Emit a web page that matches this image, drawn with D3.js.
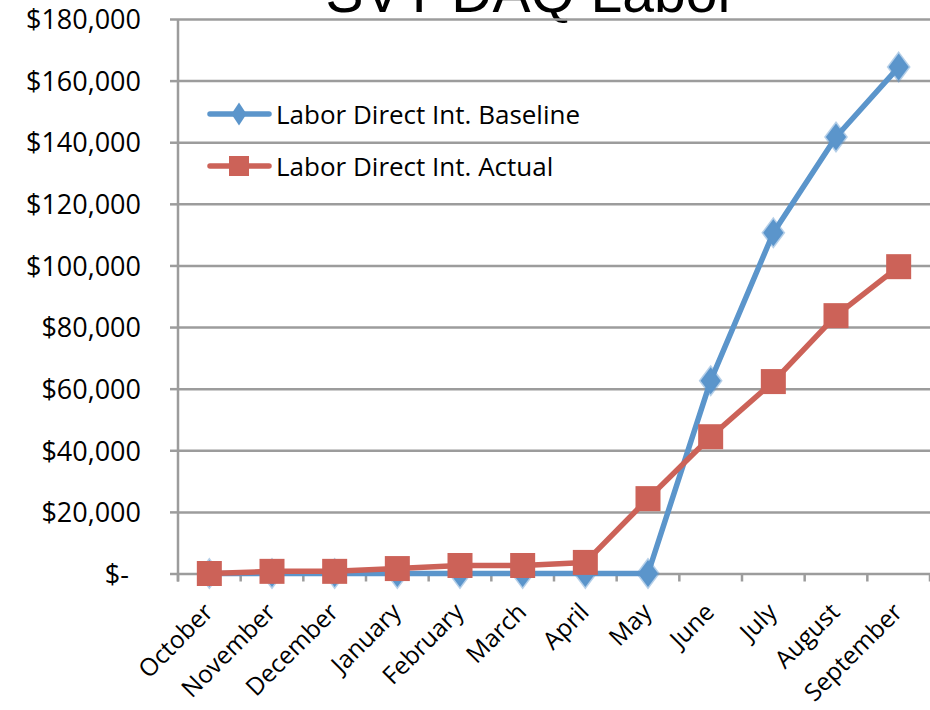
<!DOCTYPE html>
<html>
<head>
<meta charset="utf-8">
<script src="https://cdn.jsdelivr.net/npm/d3@7/dist/d3.min.js"></script>
<style>
  html, body { margin: 0; padding: 0; background: #fff; }
  svg { display: block; }
  text { font-family: "Open Sans", "Noto Sans", sans-serif; fill: #000; }
</style>
</head>
<body>
<svg id="chart" width="930" height="710"></svg>
<script>
const title = "SVT DAQ Labor";
const months = ["October","November","December","January","February","March","April","May","June","July","August","September"];
const baselineName = "Labor Direct Int. Baseline";
const actualName = "Labor Direct Int. Actual";
const baseline = [0, 0, 0, 0, 0, 0, 0, 0, 62600, 110600, 141700, 164400];
const actual = [0, 700, 700, 1600, 2600, 2600, 3600, 24300, 44400, 62300, 83700, 99600];
const yTicks = [0, 20000, 40000, 60000, 80000, 100000, 120000, 140000, 160000, 180000];

const blue = "#5B95CB";
const red = "#CC6258";
const gridColor = "#9c9c9c";

const svg = d3.select("#chart");
const plotLeft = 178, plotRight = 930, plotTop = 19, plotBottom = 573.5;

const x = d3.scaleBand().domain(months).range([plotLeft, plotRight]);
const y = d3.scaleLinear().domain([0, 180000]).range([plotBottom, plotTop]);
const cx = m => x(m) + x.bandwidth() / 2;

// title (cut off at top, as in the reference)
svg.append("text").attr("x", 531).attr("y", 12).attr("text-anchor", "middle")
  .style("font-family", "'Liberation Sans', Arial, sans-serif")
  .style("font-size", "57px").text(title);

// gridlines + y axis
const yAxis = d3.axisLeft(y).tickValues(yTicks).tickSize(8).tickPadding(0)
  .tickFormat(d => d === 0 ? "$-" : "$" + d3.format(",")(d));
const gy = svg.append("g").attr("transform", `translate(${plotLeft},0)`).call(yAxis);
gy.select(".domain").remove();
gy.selectAll(".tick line").attr("stroke", gridColor).attr("stroke-width", 2.5);
gy.selectAll(".tick").append("line").attr("x1", 0).attr("x2", plotRight - plotLeft)
  .attr("stroke", gridColor).attr("stroke-width", 2.5);
gy.selectAll(".tick text").attr("x", d => d === 0 ? -49 : -37)
  .attr("dy", "0.36em").style("font-size", "27px").style("font-family", "'Open Sans', sans-serif")
  .attr("fill", "#000");

// vertical axis line
svg.append("line").attr("x1", plotLeft).attr("x2", plotLeft).attr("y1", plotTop).attr("y2", plotBottom + 8)
  .attr("stroke", gridColor).attr("stroke-width", 2.5);

// x axis ticks at band boundaries
const bounds = months.map(m => x(m)).concat([plotRight]);
svg.append("g").selectAll("line").data(bounds).join("line")
  .attr("x1", d => d).attr("x2", d => d).attr("y1", plotBottom).attr("y2", plotBottom + 8)
  .attr("stroke", gridColor).attr("stroke-width", 2.5);

// x labels
svg.append("g").selectAll("text").data(months).join("text")
  .attr("transform", d => `translate(${cx(d) - 7},${plotBottom + 28}) rotate(-45)`)
  .attr("text-anchor", "end").attr("dy", "0.7em")
  .style("font-size", "24.5px").text(d => d);

const line = d3.line().x((d, i) => cx(months[i])).y(d => y(d));

// baseline series
svg.append("path").datum(baseline).attr("d", line).attr("fill", "none")
  .attr("stroke", blue).attr("stroke-width", 5.5).attr("stroke-linejoin", "round");
const diamond = d3.symbol().type(d3.symbolDiamond).size(210);
svg.append("g").selectAll("path").data(baseline).join("path")
  .attr("transform", (d, i) => `translate(${cx(months[i])},${y(d)}) scale(1.3,1)`)
  .attr("d", diamond).attr("fill", blue).attr("stroke", blue).attr("stroke-width", 2.5).attr("stroke-opacity", 0.45);

// actual series
svg.append("path").datum(actual).attr("d", line).attr("fill", "none")
  .attr("stroke", red).attr("stroke-width", 5.5).attr("stroke-linejoin", "round");
svg.append("g").selectAll("rect").data(actual).join("rect")
  .attr("x", (d, i) => cx(months[i]) - 12.5).attr("y", d => y(d) - 12.5)
  .attr("width", 25).attr("height", 25).attr("fill", red);

// legend
const lg = svg.append("g");
const legendItems = [
  { name: baselineName, color: blue, shape: "diamond", y: 114 },
  { name: actualName, color: red, shape: "square", y: 166 }
];
legendItems.forEach(it => {
  lg.append("line").attr("x1", 210).attr("x2", 269).attr("y1", it.y).attr("y2", it.y)
    .attr("stroke", it.color).attr("stroke-width", 5.5).attr("stroke-linecap", "round");
  if (it.shape === "diamond") {
    lg.append("path").attr("transform", `translate(239,${it.y}) scale(1.15,1)`)
      .attr("d", d3.symbol().type(d3.symbolDiamond).size(150)).attr("fill", it.color);
  } else {
    lg.append("rect").attr("x", 229).attr("y", it.y - 10).attr("width", 20).attr("height", 20).attr("fill", it.color);
  }
  lg.append("text").attr("x", 276).attr("y", it.y).attr("dy", "0.38em")
    .style("font-size", "26px").text(it.name);
});
</script>
</body>
</html>
